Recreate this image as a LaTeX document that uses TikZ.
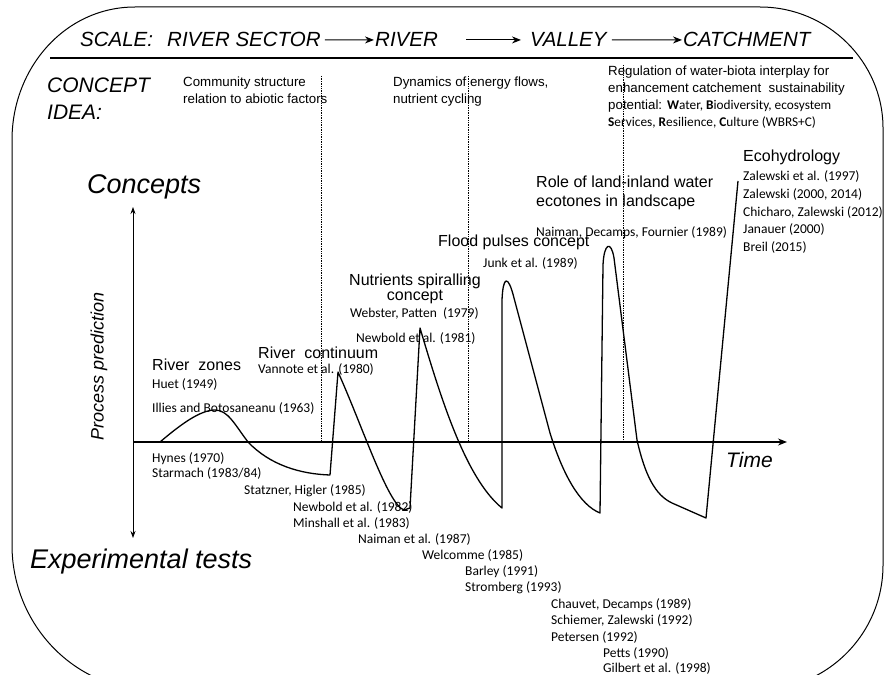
\documentclass[tikz,border=0pt]{standalone}
\usepackage{fontspec}
\usetikzlibrary{arrows.meta}
\setmainfont{Liberation Sans}
\newfontfamily\citefont{Carlito}
\begin{document}
\begin{tikzpicture}[>={Stealth[length=9pt,width=7pt]},x=1pt,y=-1pt,
		hdr/.style={font=\fontsize{20.5}{23}\selectfont\itshape,anchor=base west,inner sep=0pt},
		conc/.style={font=\fontsize{27}{30}\selectfont\itshape,anchor=base west,inner sep=0pt},
		idea/.style={font=\fontsize{13.3}{15}\selectfont,anchor=base west,inner sep=0pt},
		lbl/.style={font=\fontsize{16}{18}\selectfont,anchor=base west,inner sep=0pt},
		ref/.style={font=\citefont\fontsize{13.5}{15}\selectfont,anchor=base west,inner sep=0pt},
		zone/.style={densely dotted,line width=0.7pt}]
	\useasboundingbox (0,0) rectangle (885,674);
	\clip (0,0) rectangle (885,674);
	% frame
	\draw[line width=1pt] (12,545) -- (12,140) .. controls (12,68) and (65,7) .. (135,7)
		-- (760,7) .. controls (828,7) and (883,62) .. (883,128)
		-- (883,565) .. controls (883,634) and (827,690) .. (758,690)
		-- (152,690) .. controls (75,690) and (12,625) .. (12,545);
	% scale
	\node[hdr] (scale) at (80,47) {SCALE:};
	\node[hdr] (sector) at (167,47) {RIVER SECTOR};
	\node[hdr] (river) at (375,47) {RIVER};
	\node[hdr] (valley) at (530,47) {VALLEY};
	\node[hdr] (catch) at (683,47) {CATCHMENT};
	\draw[->,line width=1pt,shorten <=4pt,shorten >=1pt] (sector) -- (river);
	\draw[->,line width=1pt,shorten <=28pt,shorten >=9pt] (river) -- (valley);
	\draw[->,line width=1pt,shorten <=5pt,shorten >=1pt] (valley) -- (catch);
	\draw[line width=1.3pt] (50,58) -- (853,58);
	% concept idea
	\node[font=\fontsize{21}{24}\selectfont\itshape,anchor=base west,inner sep=0pt] (cidea) at (47,93) {CONCEPT};
	\node[font=\fontsize{21}{24}\selectfont\itshape,anchor=base west,inner sep=0pt] (cidea2) at (47,120) {IDEA:};
	\node[idea] (comm) at (183,87) {Community structure};
	\node[idea] (comm2) at (183,103) {relation to abiotic factors};
	\node[idea] (dyn) at (393,87) {Dynamics of energy flows,};
	\node[idea] (dyn2) at (393,103) {nutrient cycling};
	\node[idea] (reg) at (608,76) {Regulation of water-biota interplay for};
	\node[idea] (reg2) at (608,93) {enhancement catchement\ \ sustainability};
	\node[idea] (reg3) at (608,110) {potential: {\citefont\textbf{W}ater, \textbf{B}iodiversity, ecosystem}};
	\node[idea] (reg4) at (608,127) {\citefont\textbf{S}ervices, \textbf{R}esilience, \textbf{C}ulture (WBRS+C)};
	\draw[zone] (321,76) -- (321,442);
	\draw[zone] (468,76) -- (468,442);
	\draw[zone] (623,65) -- (623,442);
	% axes
	\coordinate (up) at (133,207);
	\coordinate (down) at (133,538);
	\coordinate (orig) at (133,442);
	\coordinate (tend) at (787,442);
	\draw[{Stealth[length=7pt,width=5pt]}-{Stealth[length=7pt,width=5pt]},line width=0.8pt] (up) -- (down);
	\draw[->,line width=1.3pt] (orig) -- (tend);
	\node[conc] (concepts) at (87,193) {Concepts};
	\node[conc] (exper) at (30,568) {Experimental tests};
	\node[font=\fontsize{18}{20}\selectfont\itshape,rotate=90] (proc) at (99,366) {Process prediction};
	\node[font=\fontsize{21}{24}\selectfont\itshape,anchor=base west,inner sep=0pt] (time) at (726,467) {Time};
	% curve
	\draw[line width=1.3pt,line join=round] (160,442) .. controls (180,425) and (200,410) .. (215,410)
		.. controls (228,410) and (235,425) .. (248,442) .. controls (270,465) and (300,474) .. (330,475)
		-- (338,372) .. controls (362,425) and (388,505) .. (404,510) -- (410,508)
		-- (420,328) .. controls (440,395) and (465,478) .. (502,508)
		-- (502,300) .. controls (503,276) and (508,274) .. (514,298)
		-- (550,433) .. controls (563,475) and (580,505) .. (600,513)
		-- (603,265) .. controls (604,243) and (611,240) .. (614,258)
		-- (637,440) .. controls (645,475) and (655,495) .. (672,503)
		-- (706,518) -- (738,181);
	% concepts
	\node[lbl] (zones) at (152,370) {River\ \ zones};
	\node[ref] (huet) at (152,388) {Huet (1949)};
	\node[ref] (illies) at (152,412) {Illies and Botosaneanu (1963)};
	\node[lbl] (cont) at (258,358) {River\ \ continuum};
	\node[ref] (vannote) at (258,373) {Vannote et al. (1980)};
	\node[lbl] (spiral) at (349,285) {Nutrients spiralling};
	\node[lbl,anchor=base] (spiral2) at (415,300) {concept};
	\node[ref] (webster) at (350,317) {Webster, Patten\ \ (1979)};
	\node[ref] (newbold) at (356,342) {Newbold et al. (1981)};
	\node[lbl] (flood) at (438,246) {Flood pulses concept};
	\node[ref] (junk) at (483,267) {Junk et al. (1989)};
	\node[lbl] (role) at (536,187) {Role of land-inland water};
	\node[lbl] (role2) at (536,206) {ecotones in landscape};
	\node[ref] (naiman) at (536,236) {Naiman, Decamps, Fournier (1989)};
	\node[lbl] (eco) at (743,161) {Ecohydrology};
	\node[ref] (zal1) at (743,180) {Zalewski et al. (1997)};
	\node[ref] (zal2) at (743,198) {Zalewski (2000, 2014)};
	\node[ref] (chich) at (743,216) {Chicharo, Zalewski (2012)};
	\node[ref] (jan) at (743,233) {Janauer (2000)};
	\node[ref] (breil) at (743,251) {Breil (2015)};
	% tests
	\node[ref] (hynes) at (152,462) {Hynes (1970)};
	\node[ref] (starm) at (152,477) {Starmach (1983/84)};
	\node[ref] (statz) at (244,494) {Statzner, Higler (1985)};
	\node[ref] (newb2) at (293,511) {Newbold et al. (1982)};
	\node[ref] (minsh) at (293,527) {Minshall et al. (1983)};
	\node[ref] (naim2) at (358,543) {Naiman et al. (1987)};
	\node[ref] (welc) at (422,559) {Welcomme (1985)};
	\node[ref] (barley) at (465,575) {Barley (1991)};
	\node[ref] (strom) at (465,591) {Stromberg (1993)};
	\node[ref] (chauv) at (551,608) {Chauvet, Decamps (1989)};
	\node[ref] (schiem) at (551,624) {Schiemer, Zalewski (1992)};
	\node[ref] (peters) at (551,641) {Petersen (1992)};
	\node[ref] (petts) at (603,657) {Petts (1990)};
	\node[ref] (gilb) at (603,672) {Gilbert et al. (1998)};
\end{tikzpicture}
\end{document}
